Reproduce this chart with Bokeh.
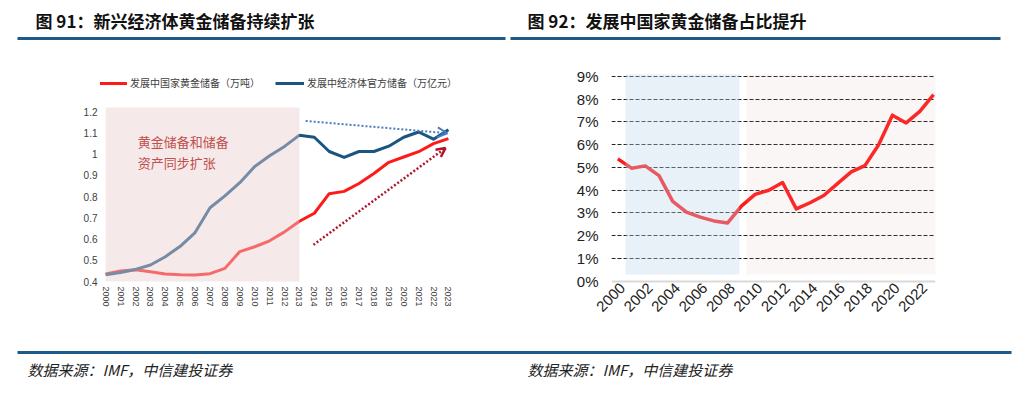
import math
from bokeh.plotting import figure
from bokeh.models import (Range1d, FixedTicker, Legend, LegendItem, BoxAnnotation,
                          Label, Arrow, OpenHead, Grid, LinearAxis)
from bokeh.layouts import column, row
from bokeh.embed import file_html
from bokeh.resources import INLINE
from bokeh.core.properties import value

CJK = "Noto Sans CJK SC"
NUM = "Liberation Sans"

# ---------------- data ----------------
years = list(range(2000, 2024))
gold_tonnes = [0.436, 0.450, 0.456, 0.446, 0.436, 0.432, 0.431, 0.437, 0.462, 0.541,
               0.564, 0.592, 0.634, 0.684, 0.722, 0.814, 0.825, 0.862, 0.909, 0.962,
               0.987, 1.012, 1.050, 1.074]
official_reserves = [0.432, 0.443, 0.457, 0.478, 0.517, 0.566, 0.631, 0.748, 0.804, 0.866,
                     0.942, 0.993, 1.037, 1.090, 1.080, 1.013, 0.985, 1.013, 1.013, 1.038,
                     1.080, 1.105, 1.071, 1.116]
gold_share = [5.38, 4.97, 5.07, 4.64, 3.51, 3.04, 2.82, 2.65, 2.56, 3.30,
              3.82, 4.00, 4.34, 3.18, 3.45, 3.77, 4.29, 4.81, 5.08, 6.00,
              7.30, 6.96, 7.47, 8.20]

left_y_ticks = [0.4, 0.5, 0.6, 0.7, 0.8, 0.9, 1.0, 1.1, 1.2]
left_y_labels = ["0.4", "0.5", "0.6", "0.7", "0.8", "0.9", "1", "1.1", "1.2"]
right_x_ticks = list(range(2000, 2023, 2))
right_y_ticks = [0, 1, 2, 3, 4, 5, 6, 7, 8, 9]
right_y_labels = ["0%", "1%", "2%", "3%", "4%", "5%", "6%", "7%", "8%", "9%"]

titles = ["图 91：新兴经济体黄金储备持续扩张", "图 92：发展中国家黄金储备占比提升"]
source_text = "数据来源：IMF，中信建投证券"
legend_labels = ["发展中国家黄金储备（万吨）", "发展中经济体官方储备（万亿元）"]
note_lines = ["黄金储备和储备", "资产同步扩张"]

left_shade = dict(left=2000, right=2013, bottom=0.4, top=1.22)
right_shade_blue = dict(left=2000.56, right=2008.86, bottom=0.3, top=9.1)
right_shade_pink = dict(left=2009.37, right=2023.79, bottom=0.3, top=9.1)

RED = "#ff1a1a"
BLUE = "#1a5582"
RULE = "#1d5a8a"

M = 8          # page offset
W = 1012
common = dict(toolbar_location=None, output_backend="svg",
              background_fill_color="white", border_fill_color="white",
              outline_line_color=None)

# ---------------- header ----------------
header = figure(width=W + M, height=40 + M, x_range=Range1d(-M, W), y_range=Range1d(40, -M),
                min_border=0, x_axis_location=None, y_axis_location=None, **common)
header.grid.visible = False
header.text(x=[27, 519], y=[12, 12], text=titles, text_font=value(CJK),
            text_font_size="17px", text_font_style="bold", text_baseline="middle",
            text_align="left", text_color="#111111")
header.segment(x0=[9, 502], y0=[30, 30], x1=[497, 992], y1=[30, 30],
               line_color=RULE, line_width=3)

# ---------------- left chart ----------------
pl = figure(width=506 + M, height=295, x_range=Range1d(1999.65, 2026.495),
            y_range=Range1d(0.3907, 1.3948),
            min_border_left=92 + M, min_border_right=14, min_border_top=22, min_border_bottom=58,
            **common)
pl.grid.visible = False
r_red = pl.line(years, gold_tonnes, line_color=RED, line_width=3, line_join="round")
r_blue = pl.line(years, official_reserves, line_color=BLUE, line_width=3, line_join="round")

pl.add_layout(BoxAnnotation(**left_shade, fill_color="#e9cfcf", fill_alpha=0.45,
                            line_color=None, line_alpha=0))

for i, t in enumerate(note_lines):
    pl.add_layout(Label(x=2002.15, y=1.06 - i * 0.098, text=t, text_font=CJK,
                        text_font_size="13px", text_color="#c0504d",
                        text_baseline="middle"))

pl.add_layout(Arrow(end=OpenHead(size=10, line_color="#4a7dbd", line_width=2),
                    x_start=2013.42, y_start=1.157, x_end=2022.93, y_end=1.099,
                    line_color="#4a7dbd", line_width=2, line_dash="2 2"))
pl.add_layout(Arrow(end=OpenHead(size=9, line_color="#b0162c", line_width=2.5),
                    x_start=2013.94, y_start=0.573, x_end=2022.8, y_end=1.029,
                    line_color="#b0162c", line_width=2.5, line_dash="2 2"))

legend_style = dict(orientation="horizontal", glyph_width=29, glyph_height=14,
                    label_height=14, label_standoff=3, padding=0, margin=0,
                    background_fill_alpha=0, border_line_color=None,
                    label_text_font=CJK, label_text_font_size="10px",
                    label_text_color="#404040")
for lab, rend, loc in ((legend_labels[0], r_red, (-2, 193)),
                       (legend_labels[1], r_blue, (175, 193))):
    pl.add_layout(Legend(items=[LegendItem(label=value(lab), renderers=[rend])],
                         location=loc, **legend_style))

pl.xaxis.ticker = FixedTicker(ticks=years)
pl.xaxis.major_label_orientation = "vertical"
pl.yaxis.ticker = FixedTicker(ticks=left_y_ticks)
pl.yaxis.major_label_overrides = {t: l for t, l in zip(left_y_ticks, left_y_labels)}
for ax in (pl.xaxis[0], pl.yaxis[0]):
    ax.axis_line_color = None
    ax.major_tick_line_color = None
    ax.minor_tick_line_color = None
    ax.major_tick_out = 0
    ax.major_tick_in = 0
    ax.major_label_text_font = NUM
    ax.major_label_text_color = "#404040"
pl.xaxis.major_label_text_font_size = "9px"
pl.yaxis.major_label_text_font_size = "10px"
pl.xaxis.major_label_standoff = 3
pl.yaxis.major_label_standoff = 3

# ---------------- right chart ----------------
x0r, x1r = 1999.54, 2023.14
label_shift = 0.35
pr = figure(width=506, height=295, x_range=Range1d(x0r, x1r), y_range=Range1d(-0.101, 9.264),
            min_border_left=97, min_border_right=85, min_border_top=22, min_border_bottom=60,
            x_axis_location=None, **common)
pr.extra_x_ranges = {"labels": Range1d(x0r - label_shift, x1r - label_shift)}
pr.xgrid.visible = False
pr.ygrid.ticker = FixedTicker(ticks=right_y_ticks[1:])
pr.ygrid.grid_line_color = "#222222"
pr.ygrid.grid_line_dash = "4 2"
pr.ygrid.grid_line_width = 1
zero_grid = Grid(dimension=1, ticker=FixedTicker(ticks=[0]), grid_line_color="#d9d9d9",
                 grid_line_width=2)
pr.add_layout(zero_grid)

pr.line(years, gold_share, line_color=RED, line_width=3.5, line_join="round")

pr.add_layout(BoxAnnotation(**right_shade_blue, fill_color="#bed4eb", fill_alpha=0.35,
                            line_color=None, line_alpha=0))
pr.add_layout(BoxAnnotation(**right_shade_pink, fill_color="#d7a5a5", fill_alpha=0.1,
                            line_color=None, line_alpha=0))

xax = LinearAxis(x_range_name="labels", ticker=FixedTicker(ticks=right_x_ticks))
pr.add_layout(xax, "below")
pr.yaxis.ticker = FixedTicker(ticks=right_y_ticks)
pr.yaxis.major_label_overrides = {t: l for t, l in zip(right_y_ticks, right_y_labels)}
for ax in (xax, pr.yaxis[0]):
    ax.axis_line_color = None
    ax.major_tick_line_color = None
    ax.minor_tick_line_color = None
    ax.major_tick_out = 0
    ax.major_tick_in = 0
    ax.major_label_text_font = NUM
    ax.major_label_text_color = "#222222"
xax.major_label_orientation = math.pi / 4
xax.major_label_text_font_size = "15px"
xax.major_label_standoff = 2
pr.yaxis.major_label_text_font_size = "15px"
pr.yaxis.major_label_standoff = 13

# ---------------- footer ----------------
footer = figure(width=W + M, height=46, x_range=Range1d(-M, W), y_range=Range1d(46, 0),
                min_border=0, x_axis_location=None, y_axis_location=None, **common)
footer.grid.visible = False
footer.segment(x0=[9], y0=[9], x1=[1003], y1=[9], line_color=RULE, line_width=3)
footer.text(x=[19, 519], y=[26, 26], text=[source_text, source_text], text_font=value(CJK),
            text_font_size="15px", text_font_style="italic", text_baseline="middle",
            text_color="#222222")

layout = column(header, row(pl, pr), footer)
open("out.html", "w").write(file_html(layout, INLINE))
